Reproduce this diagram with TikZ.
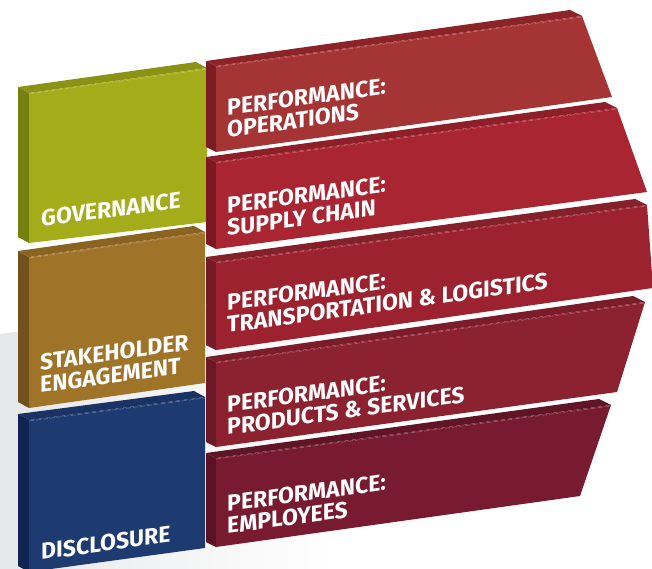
\documentclass[tikz,border=0pt]{standalone}
\usepackage{fontspec}
\setmainfont{Fira Sans}
\definecolor{govFront}{HTML}{A4AC1A}
\definecolor{govTop}{HTML}{8A9314}
\definecolor{govSide}{HTML}{76800F}
\definecolor{stkFront}{HTML}{A07428}
\definecolor{stkTop}{HTML}{8B6320}
\definecolor{stkSide}{HTML}{72511A}
\definecolor{disFront}{HTML}{1D3A71}
\definecolor{disTop}{HTML}{1A3264}
\definecolor{disSide}{HTML}{0F2452}
\definecolor{opFront}{HTML}{A53535}
\definecolor{opTop}{HTML}{8C2328}
\definecolor{opSide}{HTML}{7B1E22}
\definecolor{scFront}{HTML}{A82531}
\definecolor{scTop}{HTML}{8E1E28}
\definecolor{scSide}{HTML}{7C1820}
\definecolor{tlFront}{HTML}{9D222F}
\definecolor{tlTop}{HTML}{84202A}
\definecolor{tlSide}{HTML}{761A25}
\definecolor{psFront}{HTML}{8C2130}
\definecolor{psTop}{HTML}{7A1C2A}
\definecolor{psSide}{HTML}{6C1826}
\definecolor{emFront}{HTML}{781B31}
\definecolor{emTop}{HTML}{601527}
\definecolor{emSide}{HTML}{5A1224}
\definecolor{shadowGray}{HTML}{E6E7E9}
\newcommand{\twolines}[2]{\begin{tabular}[b]{@{}l@{}}#1\\#2\end{tabular}}

\begin{document}
\begin{tikzpicture}[x = 1pt, y = -1pt]
	\tikzstyle{labelStyle} = [text = white, font = \bfseries\fontsize{23}{20}\selectfont, inner sep = 0pt, anchor = base west, yslant = 0.137]
	\tikzstyle{hiLine} = [draw = white, opacity = 0.35, line width = 0.5pt, dash pattern = on 5pt off 2pt]
	\useasboundingbox (0,0) rectangle (652,569);
	\clip (0,0) rectangle (652,569);
	% shadow on the floor
	\shade[left color = shadowGray, right color = white] (0,334) -- (330,292) -- (330,569) -- (0,569) -- cycle;
	% governance
	\fill[govSide] (18,87) -- (29,93) -- (29,243) -- (18,237) -- cycle;
	\fill[govTop] (18,87) -- (196,62) -- (207,68) -- (29,93) -- cycle;
	\fill[govFront] (29,93) -- (207,68) -- (207,222) -- (29,243) -- cycle;
	\draw[hiLine] (29,94) -- (207,69);
	% stakeholder engagement
	\fill[stkSide] (18,251) -- (29,257) -- (29,408) -- (18,402) -- cycle;
	\fill[stkTop] (18,251) -- (194,226) -- (205,232) -- (29,257) -- cycle;
	\fill[stkFront] (29,257) -- (205,232) -- (205,383) -- (29,408) -- cycle;
	\draw[hiLine] (29,258) -- (205,233);
	% disclosure
	\fill[disSide] (18,414) -- (29,420) -- (29,572) -- (18,566) -- cycle;
	\fill[disTop] (18,414) -- (194,391) -- (205,397) -- (29,420) -- cycle;
	\fill[disFront] (29,420) -- (205,397) -- (205,548) -- (29,572) -- cycle;
	\draw[hiLine] (29,421) -- (205,398);
	% operations
	\fill[opSide] (206,61) -- (216,66) -- (216,152) -- (206,147) -- cycle;
	\fill[opTop] (206,61) -- (570,10) -- (582,16) -- (216,66) -- cycle;
	\fill[opFront] (216,66) -- (582,16) -- (612,97) -- (216,152) -- cycle;
	\draw[hiLine] (216,67) -- (582,17);
	% supply chain
	\fill[scSide] (206,157) -- (216,162) -- (216,249) -- (206,244) -- cycle;
	\fill[scTop] (206,157) -- (605,102) -- (617,108) -- (216,162) -- cycle;
	\fill[scFront] (216,162) -- (617,108) -- (647,192) -- (216,249) -- cycle;
	\draw[hiLine] (216,163) -- (617,109);
	% transportation and logistics
	\fill[tlSide] (206,257) -- (216,262) -- (216,350) -- (206,345) -- cycle;
	\fill[tlTop] (206,257) -- (635,199) -- (647,205) -- (216,262) -- cycle;
	\fill[tlFront] (216,262) -- (647,205) -- (653,288) -- (216,350) -- cycle;
	\draw[hiLine] (216,263) -- (647,206);
	% products and services
	\fill[psSide] (206,357) -- (216,362) -- (216,447) -- (206,442) -- cycle;
	\fill[psTop] (206,357) -- (633,296) -- (645,302) -- (216,362) -- cycle;
	\fill[psFront] (216,362) -- (645,302) -- (617,392) -- (216,447) -- cycle;
	\draw[hiLine] (216,363) -- (645,303);
	% employees
	\fill[emSide] (206,453) -- (216,458) -- (216,547) -- (206,542) -- cycle;
	\fill[emTop] (206,453) -- (599,399) -- (611,405) -- (216,458) -- cycle;
	\fill[emFront] (216,458) -- (611,405) -- (580,496) -- (216,547) -- cycle;
	\draw[hiLine] (216,459) -- (611,406);
	% labels
	\node[labelStyle] (gov) at (41,227) {GOVERNANCE};
	\node[labelStyle] (stk) at (40,393) {\twolines{STAKEHOLDER}{ENGAGEMENT}};
	\node[labelStyle] (dis) at (41,560) {DISCLOSURE};
	\node[labelStyle] (op) at (227,138) {\twolines{PERFORMANCE:}{OPERATIONS}};
	\node[labelStyle] (sc) at (227,236) {\twolines{PERFORMANCE:}{SUPPLY CHAIN}};
	\node[labelStyle] (tl) at (227,333) {\twolines{PERFORMANCE:}{TRANSPORTATION \& LOGISTICS}};
	\node[labelStyle] (ps) at (227,435) {\twolines{PERFORMANCE:}{PRODUCTS \& SERVICES}};
	\node[labelStyle] (em) at (227,534) {\twolines{PERFORMANCE:}{EMPLOYEES}};
\end{tikzpicture}
\end{document}
